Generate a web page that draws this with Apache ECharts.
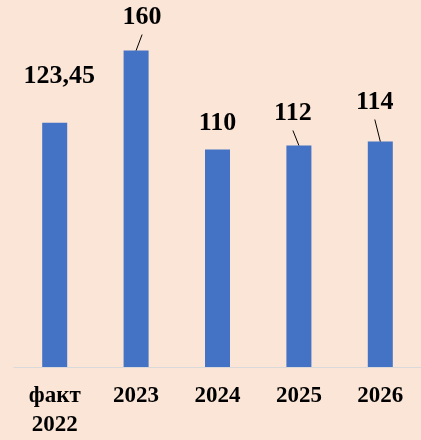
<!DOCTYPE html>
<html>
<head>
<meta charset="utf-8">
<script src="https://cdn.jsdelivr.net/npm/echarts@6/dist/echarts.min.js"></script>
<style>
  html, body { margin: 0; padding: 0; background: #FBE5D6; }
  #chart { width: 421px; height: 440px; }
</style>
</head>
<body>
<div id="chart"></div>
<script>
// Categories and values
const categories = ['факт\n2022', '2023', '2024', '2025', '2026'];
const values = [123.45, 160, 110, 112, 114];
const valueLabels = ['123,45', '160', '110', '112', '114'];
const withLeader = [false, true, false, true, true];

// Label placement relative to the top centre of each bar (px)
const labelShift = [
  { dx: 4.5, lift: 47 },
  { dx: 6, lift: 33 },
  { dx: 0, lift: 26 },
  { dx: -6, lift: 32 },
  { dx: -5.5, lift: 39 }
];

const serif = "'Liberation Serif', 'Times New Roman', serif";

const chart = echarts.init(document.getElementById('chart'), null, { renderer: 'canvas' });

chart.setOption({
  backgroundColor: '#FBE5D6',
  animation: false,
  grid: { left: 14, right: 0, top: 11, bottom: 72 },
  xAxis: {
    type: 'category',
    data: categories,
    axisLine: { show: true, lineStyle: { color: '#D9D9D9', width: 1 } },
    axisTick: { show: false },
    axisLabel: {
      margin: 15,
      fontFamily: serif,
      fontWeight: 'bold',
      fontSize: 23,
      lineHeight: 29,
      color: '#000',
      interval: 0
    }
  },
  yAxis: {
    type: 'value',
    min: 0,
    max: 180,
    show: false,
    splitLine: { show: false }
  },
  series: [{
    type: 'bar',
    barWidth: 25,
    itemStyle: { color: '#4472C4' },
    data: values,
    label: {
      show: true,
      position: 'top',
      fontFamily: serif,
      fontWeight: 'bold',
      fontSize: 26,
      color: '#000',
      formatter: p => valueLabels[p.dataIndex]
    },
    labelLayout: function (p) {
      const s = labelShift[p.dataIndex];
      const barCx = p.rect.x + p.rect.width / 2;
      return {
        x: barCx + s.dx,
        y: p.rect.y - s.lift,
        align: 'center',
        verticalAlign: 'middle'
      };
    }
  }, {
    // Leader lines from shifted labels down to the bar tops
    type: 'custom',
    silent: true,
    z: 5,
    data: values.map((v, i) => [i, v]),
    renderItem: function (params, api) {
      const i = api.value(0);
      if (!withLeader[i]) return null;
      const top = api.coord([i, api.value(1)]);
      const s = labelShift[i];
      return {
        type: 'line',
        shape: {
          x1: top[0] + s.dx, y1: top[1] - s.lift + 17,
          x2: top[0], y2: top[1]
        },
        style: { stroke: '#000', lineWidth: 1 }
      };
    }
  }]
});
</script>
</body>
</html>
